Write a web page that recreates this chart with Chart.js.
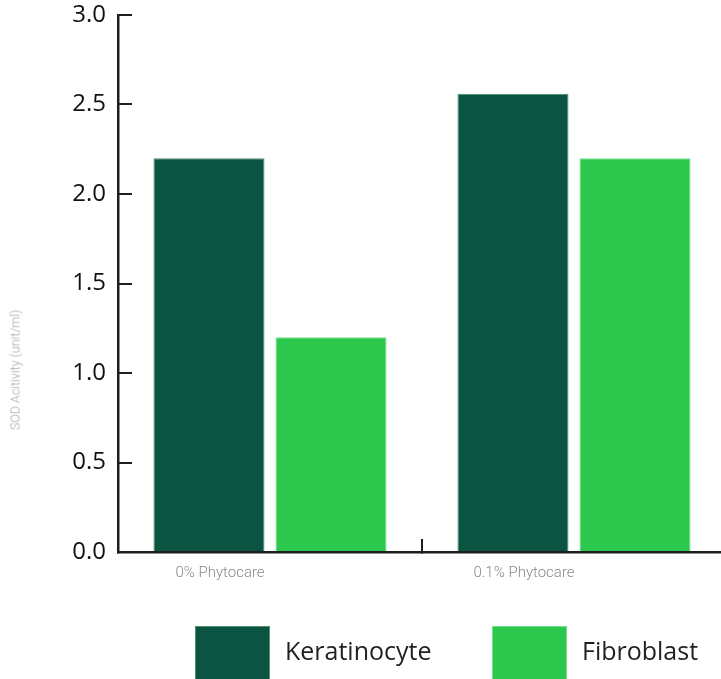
<!DOCTYPE html>
<html><head><meta charset="utf-8">
<script src="https://cdn.jsdelivr.net/npm/chart.js@4"></script>
<style>
html,body{margin:0;padding:0;background:#fff;overflow:hidden}
#wrap{position:relative;width:721px;height:679px;overflow:hidden;background:#fff}
#cbox{position:absolute;left:0;top:0;width:730px;height:679px}
#ytitle{position:absolute;left:15px;top:370px;transform:translate(-50%,-50%) rotate(-90deg);white-space:nowrap;font-family:Roboto;font-weight:300;font-size:12.5px;color:#a8a8a8}
.lg{position:absolute;font-family:"Open Sans";font-size:25px;color:#231f20;line-height:1}
.sw{position:absolute;width:75px;height:54px}
</style></head><body>
<div id="wrap">
<div id="cbox"><canvas id="c" width="730" height="679"></canvas></div>
<div id="ytitle">SOD Acitivity (unit/ml)</div>
<div id="legend"></div>
</div>
<script>
const categories = ['0% Phytocare', '0.1% Phytocare'];
const seriesNames = ['Keratinocyte', 'Fibroblast'];
const keratinocyte = [2.2, 2.56];
const fibroblast = [1.2, 2.2];
const yMin = 0, yMax = 3.0, yStep = 0.5;
const colors = ['#0b5442', '#2cc84d'];
const borders = ['#4f8f72', '#74dd8a'];

const axisColor = '#1f1f1f';
new Chart(document.getElementById('c'), {
  type: 'bar',
  data: {
    labels: categories,
    datasets: [
      {label: seriesNames[0], data: keratinocyte, backgroundColor: colors[0], borderColor: borders[0], borderWidth: 1, barPercentage: 0.91, categoryPercentage: 0.803},
      {label: seriesNames[1], data: fibroblast, backgroundColor: colors[1], borderColor: borders[1], borderWidth: 1, barPercentage: 0.91, categoryPercentage: 0.803}
    ]
  },
  options: {
    responsive: false,
    animation: false,
    layout: {padding: {top: 15, bottom: 87, right: 4, left: 0}},
    plugins: {legend: {display: false}, tooltip: {enabled: false}},
    scales: {
      x: {
        offset: true,
        grid: {offset: true, drawOnChartArea: false, drawTicks: true, tickLength: -13, color: axisColor, lineWidth: 2},
        border: {color: axisColor, width: 2.5},
        ticks: {labelOffset: -50, padding: 25, color: '#8a8a8a', font: {family: 'Roboto', size: 15, weight: '300'}},
        afterFit(s) { s.height = 40; s.paddingLeft = 0; s.paddingRight = 0; }
      },
      y: {
        min: yMin, max: yMax,
        grid: {drawOnChartArea: false, drawTicks: true, tickLength: -14, color: axisColor, lineWidth: 2},
        border: {color: axisColor, width: 2.5},
        ticks: {stepSize: yStep, padding: 26, color: '#111', font: {family: 'Open Sans', size: 24}, callback: v => Number(v).toFixed(1)},
        afterFit(s) { s.width = 118; s.paddingTop = 0; s.paddingBottom = 0; }
      }
    }
  }
});

// legend
const lg = document.getElementById('legend');
const swLeft = [195, 492], txtLeft = [285, 582];
seriesNames.forEach((n, i) => {
  const sw = document.createElement('div'); sw.className = 'sw';
  sw.style.left = swLeft[i] + 'px'; sw.style.top = '626px'; sw.style.background = colors[i];
  sw.style.boxShadow = 'inset 0 0 0 1px ' + borders[i];
  lg.appendChild(sw);
  const t = document.createElement('div'); t.className = 'lg'; t.textContent = n;
  t.style.left = txtLeft[i] + 'px'; t.style.top = '638px';
  lg.appendChild(t);
});
</script>
</body></html>
